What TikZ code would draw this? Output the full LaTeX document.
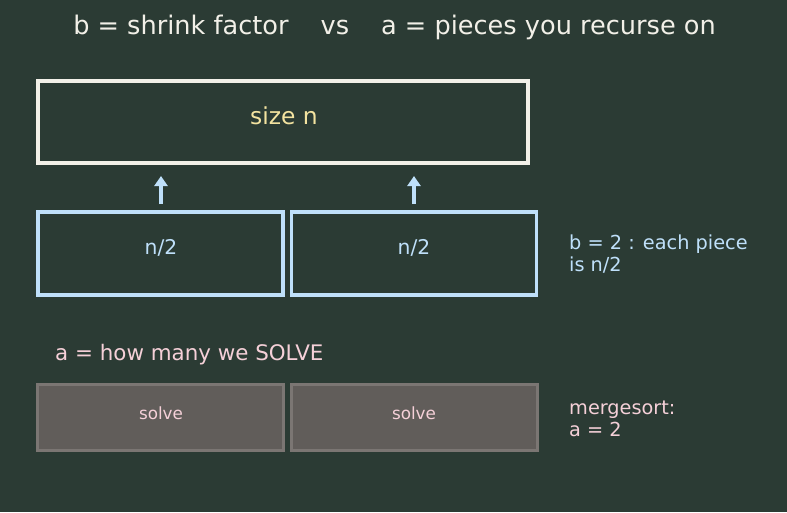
\documentclass[tikz,border=0pt]{standalone}
\usepackage{fontspec}
\setmainfont{DejaVu Sans}
\usetikzlibrary{arrows.meta}
\definecolor{bg}{HTML}{2B3B34}
\definecolor{wline}{HTML}{F2F0E8}
\definecolor{ytext}{HTML}{F3E3A0}
\definecolor{lblue}{HTML}{BFE0FA}
\definecolor{lpink}{HTML}{F5D0D8}
\definecolor{sfill}{HTML}{615D5A}
\definecolor{sline}{HTML}{7B7673}
\begin{document}
\begin{tikzpicture}[x=1pt,y=-1pt,
  bigbox/.style={draw=wline,line width=3.2pt,minimum width=490pt,minimum height=82pt,inner sep=0pt},
  halfbox/.style={draw=lblue,line width=3.2pt,minimum width=245pt,minimum height=83pt,inner sep=0pt},
  solvebox/.style={draw=sline,fill=sfill,line width=2.2pt,minimum width=246pt,minimum height=66pt,inner sep=0pt},
  halflabel/.style={text=lblue,font=\fontsize{20.3}{24}\selectfont},
  solvelabel/.style={text=lpink,font=\fontsize{16.8}{19}\selectfont},
  uparrow/.style={draw=lblue,line width=4pt,-{Triangle[length=10pt,width=13pt]}},
  note/.style={anchor=west,align=left,inner sep=0pt,font=\fontsize{19.3}{22}\selectfont}]
\fill[bg] (0,0) rectangle (787,512);
\useasboundingbox (0,0) rectangle (787,512);
\node[font=\fontsize{25.6}{30}\selectfont,text=wline] (title) at (394.5,27) {b = shrink factor\hspace{1.25em}vs\hspace{1.25em}a = pieces you recurse on};
\node[bigbox] (big) at (283,122) {};
\node[text=ytext,font=\fontsize{23.4}{28}\selectfont] (bigl) at (284,116) {size n};
\node[halfbox] (h1) at (160.5,253.5) {};
\node[halfbox] (h2) at (414,253.5) {};
\node[halflabel] (h1l) at (161,247.5) {n/2};
\node[halflabel] (h2l) at (414,247.5) {n/2};
\coordinate (a1s) at (161,204);
\coordinate (a1e) at (161,176);
\coordinate (a2s) at (414,204);
\coordinate (a2e) at (414,176);
\draw[uparrow] (a1s) -- (a1e);
\draw[uparrow] (a2s) -- (a2e);
\node[note,text=lblue] (bnote) at (569,254) {b = 2 : each piece\\is n/2};
\node[anchor=west,inner sep=0pt,text=lpink,font=\fontsize{21.4}{25}\selectfont] (anote) at (55,355) {a = how many we SOLVE};
\node[solvebox] (s1) at (160.5,417.5) {};
\node[solvebox] (s2) at (414.5,417.5) {};
\node[solvelabel] (s1l) at (161,413) {solve};
\node[solvelabel] (s2l) at (414,413) {solve};
\node[note,text=lpink] (mnote) at (569,419) {mergesort:\\a = 2};
\end{tikzpicture}
\end{document}
